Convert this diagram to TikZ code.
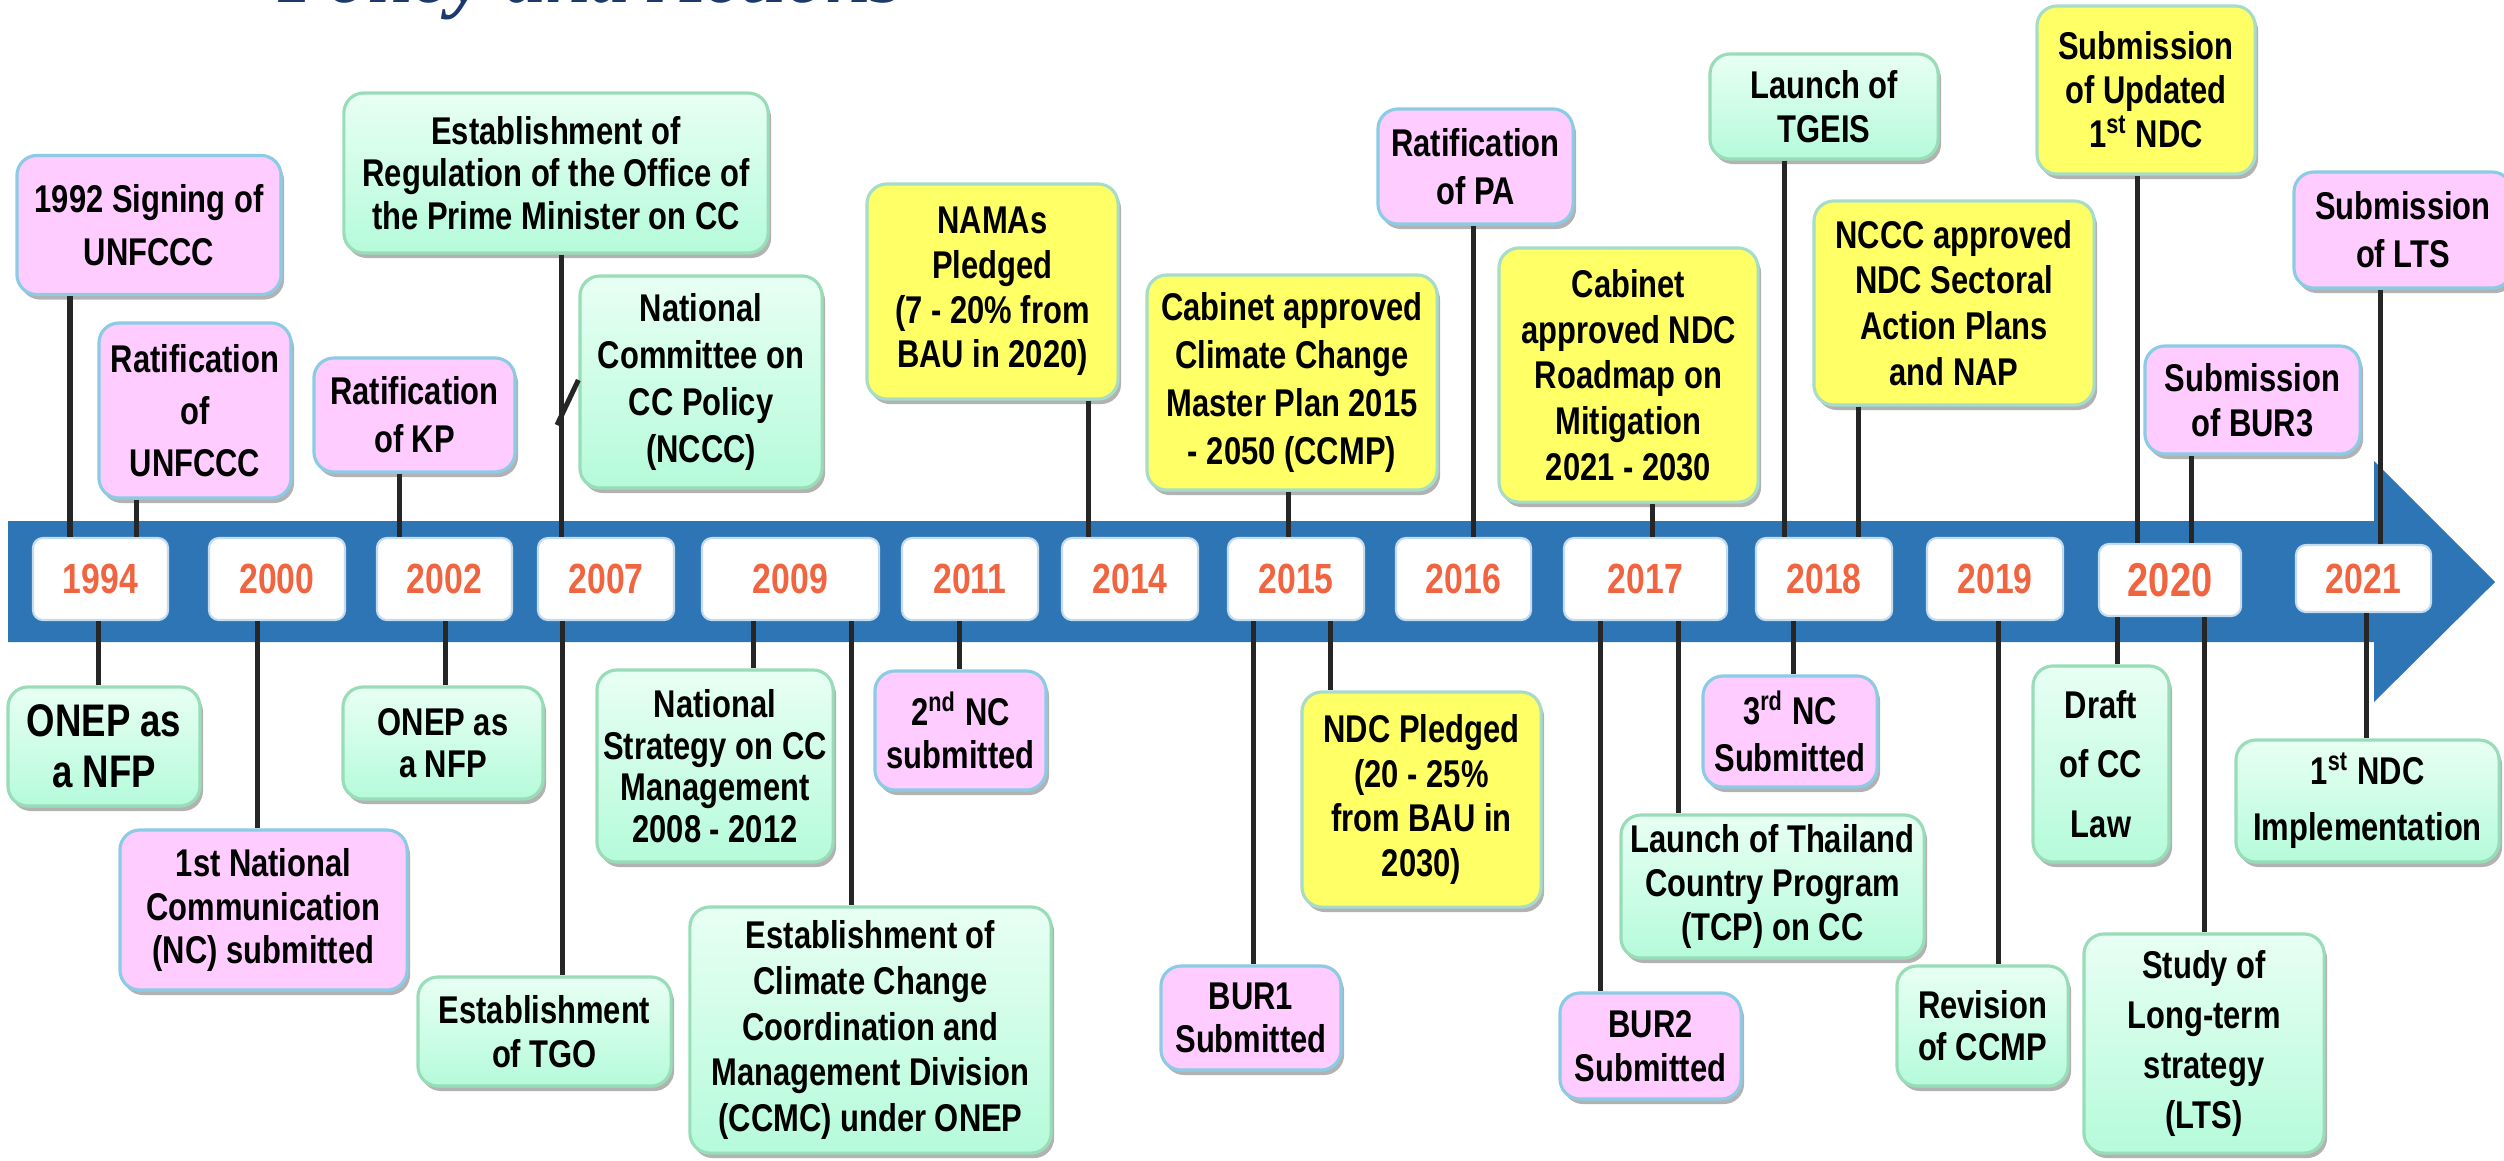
\documentclass[tikz,border=0pt]{standalone}
\usepackage{fontspec}
\newfontfamily\narrowfont{Liberation Sans}[FakeStretch=0.8]
\newfontfamily\titlefont{Liberation Serif}
\usetikzlibrary{shadows}
\definecolor{bandblue}{HTML}{2E75B6}
\definecolor{yearred}{HTML}{F0643F}
\definecolor{pinkfill}{HTML}{FFCCFF}
\definecolor{pinkdraw}{HTML}{8CCBE6}
\definecolor{yellowfill}{HTML}{FFFF66}
\definecolor{yellowdraw}{HTML}{A6DCC8}
\definecolor{greentop}{HTML}{E8FFF4}
\definecolor{greenbot}{HTML}{B5FBDA}
\definecolor{greendraw}{HTML}{98DDB8}
\definecolor{linegray}{HTML}{262626}
\definecolor{titleblue}{HTML}{1B3A6B}
\definecolor{yearborder}{HTML}{C5DCEE}
\begin{document}
\begin{tikzpicture}[x=0.01cm,y=-0.01cm,
  evbox/.style={rounded corners=0.2cm, line width=0.9pt, align=center, inner sep=0pt,
    font=\narrowfont\bfseries\fontsize{11}{13}\selectfont,
    drop shadow={shadow xshift=0.03cm, shadow yshift=-0.05cm, opacity=0.3, fill=black}},
  pinkb/.style={evbox, fill=pinkfill, draw=pinkdraw},
  yelb/.style={evbox, fill=yellowfill, draw=yellowdraw},
  greenb/.style={evbox, top color=greentop, bottom color=greenbot, draw=greendraw},
  ls/.style={font=\narrowfont\bfseries\fontsize{11}{#1}\selectfont},
  yearbox/.style={fill=white, draw=yearborder, line width=0.6pt, rounded corners=0.1cm,
    inner sep=0pt, text=yearred, minimum height=0.82cm,
    font=\narrowfont\bfseries\fontsize{12}{14}\selectfont},
  conn/.style={draw=linegray, line width=0.05cm}]
\useasboundingbox (0,0) rectangle (2504,1160);

% title (cut off at the top)
\node[anchor=base west, inner sep=0pt, text=titleblue,
  font=\titlefont\bfseries\itshape\fontsize{23}{23}\selectfont] (title) at (278,2) {Policy and Actions};

% timeline arrow
\fill[bandblue] (8,521) -- (2374,521) -- (2374,461) -- (2495,582) -- (2374,702)
  -- (2374,642) -- (8,642) -- cycle;

% year boxes
\node[yearbox, minimum width=1.35cm] (y1994) at (100.5,579) {1994};
\node[yearbox, minimum width=1.36cm] (y2000) at (277,579) {2000};
\node[yearbox, minimum width=1.35cm] (y2002) at (444.5,579) {2002};
\node[yearbox, minimum width=1.36cm] (y2007) at (606,579) {2007};
\node[yearbox, minimum width=1.77cm] (y2009) at (790.5,579) {2009};
\node[yearbox, minimum width=1.36cm] (y2011) at (970,579) {2011};
\node[yearbox, minimum width=1.36cm] (y2014) at (1130,579) {2014};
\node[yearbox, minimum width=1.36cm] (y2015) at (1296,579) {2015};
\node[yearbox, minimum width=1.35cm] (y2016) at (1463.5,579) {2016};
\node[yearbox, minimum width=1.63cm] (y2017) at (1645.5,579) {2017};
\node[yearbox, minimum width=1.36cm] (y2018) at (1824,579) {2018};
\node[yearbox, minimum width=1.36cm] (y2019) at (1995,579) {2019};
\node[yearbox, minimum width=1.42cm, minimum height=0.72cm,
  font=\narrowfont\bfseries\fontsize{13.5}{15}\selectfont] (y2020) at (2170,580) {2020};
\node[yearbox, minimum width=1.35cm, minimum height=0.67cm] (y2021) at (2363.5,578.5) {2021};

% events above the timeline
\node[pinkb, ls=15, minimum width=2.64cm, minimum height=1.39cm] (A) at (149,225) {1992 Signing of\\UNFCCC};
\node[pinkb, ls=14.7, minimum width=1.92cm, minimum height=1.75cm] (B) at (195,410.5) {Ratification\\of\\UNFCCC};
\node[greenb, ls=12, minimum width=4.24cm, minimum height=1.60cm] (C) at (556,173) {Establishment of\\Regulation of the Office of\\the Prime Minister on CC};
\node[pinkb, ls=13.6, minimum width=2.01cm, minimum height=1.14cm] (D) at (414.5,415) {Ratification\\of KP};
\node[greenb, ls=13.4, minimum width=2.42cm, minimum height=2.12cm] (E) at (701,382) {National\\Committee on\\CC Policy\\(NCCC)};
\node[yelb, ls=12.7, minimum width=2.51cm, minimum height=2.15cm] (F) at (992.5,291.5) {NAMAs\\Pledged\\(7 - 20\% from\\BAU in 2020)};
\node[yelb, ls=13.6, minimum width=2.90cm, minimum height=2.15cm] (G) at (1292,382.5) {Cabinet approved\\Climate Change\\Master Plan 2015\\- 2050 (CCMP)};
\node[pinkb, ls=13.6, minimum width=1.95cm, minimum height=1.15cm] (H) at (1475.5,166.5) {Ratification\\of PA};
\node[yelb, ls=13, minimum width=2.59cm, minimum height=2.54cm] (I) at (1628.5,375) {Cabinet\\approved NDC\\Roadmap on\\Mitigation\\2021 - 2030};
\node[greenb, ls=12.7, minimum width=2.28cm, minimum height=1.05cm] (J) at (1824,106.5) {Launch of\\TGEIS};
\node[yelb, ls=13, minimum width=2.80cm, minimum height=2.04cm] (K) at (1954,303) {NCCC approved\\NDC Sectoral\\Action Plans\\and NAP};
\node[yelb, ls=12.5, minimum width=2.18cm, minimum height=1.68cm] (L) at (2146,90) {Submission\\of Updated\\1\textsuperscript{st} NDC};
\node[pinkb, ls=12.7, minimum width=2.15cm, minimum height=1.08cm] (M) at (2252.5,400) {Submission\\of BUR3};
\node[pinkb, ls=13.6, minimum width=2.18cm, minimum height=1.16cm] (N) at (2403,230) {Submission\\of LTS};

% events below the timeline
\node[greenb, font=\narrowfont\bfseries\fontsize{13}{14.5}\selectfont, minimum width=1.92cm, minimum height=1.19cm] (a) at (104,746.5) {ONEP as\\a NFP};
\node[pinkb, ls=12.3, minimum width=2.87cm, minimum height=1.60cm] (b) at (263.5,910) {1st National\\Communication\\(NC) submitted};
\node[greenb, ls=12, minimum width=2.00cm, minimum height=1.12cm] (c) at (443,743) {ONEP as\\a NFP};
\node[greenb, ls=12.7, minimum width=2.53cm, minimum height=1.09cm] (d) at (544.5,1031.5) {Establishment\\of TGO};
\node[greenb, ls=11.8, minimum width=2.36cm, minimum height=1.92cm] (e) at (715,766) {National\\Strategy on CC\\Management\\2008 - 2012};
\node[greenb, ls=13, minimum width=3.61cm, minimum height=2.46cm] (f) at (870.5,1030) {Establishment of\\Climate Change\\Coordination and\\Management Division\\(CCMC) under ONEP};
\node[pinkb, ls=12.2, minimum width=1.71cm, minimum height=1.19cm] (g) at (960.5,730.5) {2\textsuperscript{nd} NC\\submitted};
\node[pinkb, ls=12.2, minimum width=1.80cm, minimum height=1.04cm] (h) at (1251,1018) {BUR1\\Submitted};
\node[yelb, ls=12.7, minimum width=2.39cm, minimum height=2.15cm] (i) at (1421.5,799.5) {NDC Pledged\\(20 - 25\%\\from BAU in\\2030)};
\node[pinkb, ls=12.7, minimum width=1.81cm, minimum height=1.06cm] (j) at (1650.5,1046) {BUR2\\Submitted};
\node[greenb, ls=12.5, minimum width=3.03cm, minimum height=1.43cm] (k) at (1772.5,886.5) {Launch of Thailand\\Country Program\\(TCP) on CC};
\node[pinkb, ls=13.5, minimum width=1.74cm, minimum height=1.11cm] (l) at (1790,731.5) {3\textsuperscript{rd} NC\\Submitted};
\node[greenb, ls=12, minimum width=1.71cm, minimum height=1.20cm] (m) at (1982.5,1026) {Revision\\of CCMP};
\node[greenb, ls=17, minimum width=1.36cm, minimum height=1.96cm] (n) at (2101,764) {Draft\\of CC\\Law};
\node[greenb, ls=14.3, minimum width=2.40cm, minimum height=2.19cm] (o) at (2204,1043.5) {Study of\\Long-term\\strategy\\(LTS)};
\node[greenb, ls=16, minimum width=2.63cm, minimum height=1.22cm] (p) at (2367.5,801) {1\textsuperscript{st} NDC\\Implementation};

% connectors above
\draw[conn] (A.south -| 70,0) -- (y1994.north -| 70,0);
\draw[conn] (B.south -| 136,0) -- (y1994.north -| 136,0);
\draw[conn] (C.south -| 561,0) -- (y2007.north -| 561,0);
\coordinate (diag) at (557,425);
\draw[conn] (diag) -- (E.west |- 0,380);
\draw[conn] (D.south -| 399,0) -- (y2002.north -| 399,0);
\draw[conn] (F.south -| 1088,0) -- (y2014.north -| 1088,0);
\draw[conn] (G.south -| 1288,0) -- (y2015.north -| 1288,0);
\draw[conn] (H.south -| 1473,0) -- (y2016.north -| 1473,0);
\draw[conn] (I.south -| 1652,0) -- (y2017.north -| 1652,0);
\draw[conn] (J.south -| 1784,0) -- (y2018.north -| 1784,0);
\draw[conn] (K.south -| 1858,0) -- (y2018.north -| 1858,0);
\draw[conn] (L.south -| 2137,0) -- (y2020.north -| 2137,0);
\draw[conn] (M.south -| 2191,0) -- (y2020.north -| 2191,0);
\draw[conn] (N.south -| 2380,0) -- (y2021.north -| 2380,0);

% connectors below
\draw[conn] (y1994.south -| 98,0) -- (a.north -| 98,0);
\draw[conn] (y2000.south -| 257,0) -- (b.north -| 257,0);
\draw[conn] (y2002.south -| 445,0) -- (c.north -| 445,0);
\draw[conn] (y2007.south -| 562,0) -- (d.north -| 562,0);
\draw[conn] (y2009.south -| 753,0) -- (e.north -| 753,0);
\draw[conn] (y2009.south -| 851,0) -- (f.north -| 851,0);
\draw[conn] (y2011.south -| 959,0) -- (g.north -| 959,0);
\draw[conn] (y2015.south -| 1253,0) -- (h.north -| 1253,0);
\draw[conn] (y2015.south -| 1330,0) -- (i.north -| 1330,0);
\draw[conn] (y2017.south -| 1600,0) -- (j.north -| 1600,0);
\draw[conn] (y2017.south -| 1678,0) -- (k.north -| 1678,0);
\draw[conn] (y2018.south -| 1793,0) -- (l.north -| 1793,0);
\draw[conn] (y2019.south -| 1998,0) -- (m.north -| 1998,0);
\draw[conn] (y2020.south -| 2117,0) -- (n.north -| 2117,0);
\draw[conn] (y2020.south -| 2204,0) -- (o.north -| 2204,0);
\draw[conn] (y2021.south -| 2366,0) -- (p.north -| 2366,0);
\end{tikzpicture}
\end{document}
